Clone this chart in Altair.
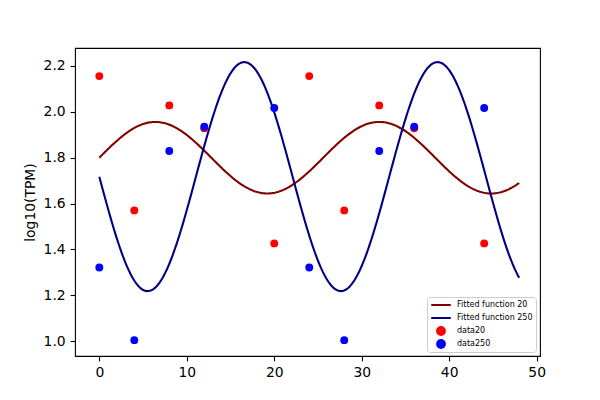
import numpy as np
import pandas as pd
import altair as alt

# ---- data ----
x_obs = [0, 4, 8, 12, 20, 24, 28, 32, 36, 44]
data20 = [2.156, 1.570, 2.028, 1.928, 1.426, 2.156, 1.570, 2.028, 1.928, 1.426]
data250 = [1.321, 1.004, 1.829, 1.935, 2.017, 1.321, 1.004, 1.829, 1.935, 2.017]

# fitted cosine parameters (mean, amplitude, period, peak time)
fit20 = dict(mean=1.800, amp=0.156, period=25.6, peak=6.4)
fit250 = dict(mean=1.7175, amp=0.4995, period=22.1, peak=16.57)

labels = ["Fitted function 20", "Fitted function 250", "data20", "data250"]
colors = ["#800000", "#000080", "#ff0000", "#0000ff"]
shapes = ["stroke", "stroke", "circle", "circle"]
sym_sizes = [380, 380, 62, 62]

x_ticks = [0, 10, 20, 30, 40, 50]
y_ticks = [1.0, 1.2, 1.4, 1.6, 1.8, 2.0, 2.2]

# ---- build tables ----
xf = np.linspace(0, 48, 300)
def fitted(p):
    return p["mean"] + p["amp"] * np.cos(2 * np.pi * (xf - p["peak"]) / p["period"])

curves = pd.concat([
    pd.DataFrame({"x": xf, "y": fitted(fit20), "series": labels[0]}),
    pd.DataFrame({"x": xf, "y": fitted(fit250), "series": labels[1]}),
])
points = pd.concat([
    pd.DataFrame({"x": x_obs, "y": data20, "series": labels[2]}),
    pd.DataFrame({"x": x_obs, "y": data250, "series": labels[3]}),
])

FONT = "DejaVu Sans"

legend = alt.Legend(title=None, orient="bottom-right")

xscale = alt.Scale(domain=[-2.78, 50.38], nice=False, zero=False)
yscale = alt.Scale(domain=[0.935, 2.2785], nice=False, zero=False)
color = alt.Color("series:N", scale=alt.Scale(domain=labels, range=colors), legend=legend)

xenc = alt.X("x:Q", scale=xscale, axis=alt.Axis(values=x_ticks, title=None, format="d"))
yenc = alt.Y("y:Q", scale=yscale, axis=alt.Axis(values=y_ticks, title="log10(TPM)", format=".1f"))

lines = alt.Chart(curves).mark_line(strokeWidth=2.08, clip=True).encode(
    x=xenc, y=yenc, color=color, order="x:Q"
)
dots = alt.Chart(points).mark_point(filled=True, opacity=1, strokeWidth=0).encode(
    x=xenc, y=yenc, color=color,
    shape=alt.Shape("series:N", scale=alt.Scale(domain=labels, range=shapes), legend=legend),
    size=alt.Size("series:N", scale=alt.Scale(type="ordinal", domain=labels, range=sym_sizes), legend=legend),
)

chart = alt.layer(lines, dots).properties(
    width=465, height=308,
    padding={"left": 67, "top": 40, "right": 52, "bottom": 36},
    autosize=alt.AutoSizeParams(type="none"),
).configure_view(
    stroke="black", strokeWidth=1.1
).configure_axis(
    grid=False, domain=False,
    ticks=True, tickColor="black", tickSize=4.9, tickWidth=1.1,
    labelFont=FONT, labelFontSize=13.9, labelColor="black", labelPadding=4.9,
    titleFont=FONT, titleFontSize=13.9, titleFontWeight="normal", titleColor="black",
    titlePadding=6,
).configure_legend(
    offset=4,
    padding=3,
    strokeColor="#cccccc",
    fillColor="white",
    cornerRadius=3,
    labelFont=FONT,
    labelFontSize=8,
    labelColor="black",
    labelOffset=5,
    rowPadding=3,
    symbolStrokeWidth=2,
    symbolOpacity=1,
    clipHeight=10,
)

chart.save("out.html", embed_options={"renderer": "svg", "actions": False})
